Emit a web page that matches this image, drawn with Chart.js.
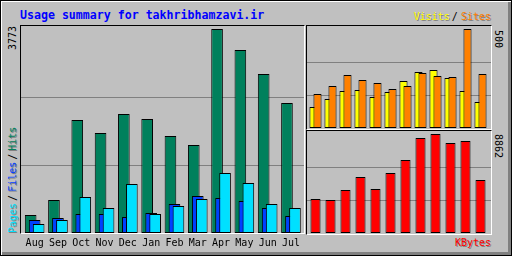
<!DOCTYPE html>
<html>
<head>
<meta charset="utf-8">
<script src="https://cdn.jsdelivr.net/npm/chart.js@4/dist/chart.umd.min.js"></script>
<style>
  body { margin: 0; background: #c0c0c0; }
  #frame {
    position: relative; width: 512px; height: 256px; overflow: hidden;
    background: #c0c0c0;
    box-shadow: inset 0 0 0 1px #000, inset 2px 2px 0 #fff, inset -4px -4px 0 #808080;
    font-family: 'DejaVu Sans Mono', monospace;
  }
  .panel {
    position: absolute; box-sizing: border-box;
    border-style: solid; border-width: 1px; border-color: #000 #fff #fff #000;
  }
  canvas { position: absolute; }
  .lbl { position: absolute; white-space: nowrap; font-size: 10px; line-height: 10px; }
  .up { transform-origin: 0 0; transform: rotate(-90deg); }
  .down { transform-origin: 0 0; transform: rotate(90deg); }
  .sh { text-shadow: 1px 1px 0 #808080; }
  .up .sh { text-shadow: -1px 1px 0 #808080; }
  .sep { margin: 0 3px 0 2px; color: #000; }
</style>
</head>
<body>
<div id="frame">
  <div class="panel" style="left:20px;top:25px;width:285px;height:209px"></div>
  <div class="panel" style="left:306px;top:25px;width:186px;height:105px"></div>
  <div class="panel" style="left:306px;top:130px;width:186px;height:105px"></div>

  <canvas id="mainChart" width="283" height="230" style="left:21px;top:26px"></canvas>
  <canvas id="visitChart" width="184" height="102" style="left:307px;top:26px"></canvas>
  <canvas id="kbChart" width="184" height="101" style="left:307px;top:132px"></canvas>

  <div class="lbl" style="left:20px;top:9px;font-size:11.6px;line-height:12px;font-weight:bold;color:#0000ff">Usage summary for takhribhamzavi.ir</div>
  <div class="lbl" style="right:21px;top:12px"><span class="sh" style="color:#ffff00">Visits</span><span class="sep">/</span><span class="sh" style="color:#ff8000">Sites</span></div>
  <div class="lbl sh" style="right:21px;top:238px;color:#ff0000">KBytes</div>
  <div class="lbl up" style="left:8px;top:233px"><span class="sh" style="color:#00e0ff">Pages</span><span class="sep">/</span><span class="sh" style="color:#0040ff">Files</span><span class="sep">/</span><span class="sh" style="color:#00805c">Hits</span></div>
  <div class="lbl up" id="hitsMaxLbl" style="left:8px;top:50px;color:#000"></div>
  <div class="lbl down" id="visitsMaxLbl" style="left:503px;top:30px;color:#000"></div>
  <div class="lbl down" id="kbMaxLbl" style="left:503px;top:134px;color:#000"></div>
</div>

<script>
// monthly totals, Aug .. Jul
const months = ['Aug', 'Sep', 'Oct', 'Nov', 'Dec', 'Jan', 'Feb', 'Mar', 'Apr', 'May', 'Jun', 'Jul'];
const hits   = [333, 610, 2090, 1850, 2201, 2108, 1794, 1628, 3773, 3385, 2941, 2404];
const files  = [240, 277, 351, 351, 296, 370, 536, 684, 647, 592, 462, 314];
const pages  = [166, 240, 666, 462, 906, 351, 499, 629, 1110, 925, 536, 462];
const visits = [106, 146, 187, 192, 157, 182, 237, 283, 293, 253, 187, 131];
const sites  = [172, 212, 268, 242, 227, 197, 212, 278, 263, 258, 500, 273];
const kbytes = [3044, 2954, 3849, 5013, 3939, 5371, 6535, 8504, 8862, 8056, 8235, 4744];

// scale tops (shown as the rotated labels)
const hitsMax = 3773;
const visitsMax = 500;
const kbytesMax = 8862;

document.getElementById('hitsMaxLbl').textContent = hitsMax;
document.getElementById('visitsMaxLbl').textContent = visitsMax;
document.getElementById('kbMaxLbl').textContent = kbytesMax;

Chart.defaults.animation = false;
Chart.defaults.responsive = false;
Chart.defaults.devicePixelRatio = 1;
Chart.defaults.plugins.legend.display = false;
Chart.defaults.plugins.tooltip.enabled = false;

// grey lines at 1/3 and 2/3 of the scale, across the whole panel
const panelGrid = {
	id: 'panelGrid',
	beforeDatasetsDraw(chart) {
		const y = chart.scales.y;
		const ctx = chart.ctx;
		ctx.save();
		ctx.strokeStyle = '#808080';
		ctx.lineWidth = 1;
		for (let k = 1; k < 3; k++) {
			const py = Math.round(y.getPixelForValue(y.max * k / 3)) + 0.5;
			ctx.beginPath();
			ctx.moveTo(0, py);
			ctx.lineTo(chart.width, py);
			ctx.stroke();
		}
		ctx.restore();
	}
};

// webalizer draws the bars of a month overlapping, each nudged sideways
const barShift = {
	id: 'barShift',
	beforeDatasetDraw(chart, args) {
		const dx = chart.data.datasets[args.index].shift || 0;
		chart.ctx.save();
		chart.ctx.translate(dx, 0);
	},
	afterDatasetDraw(chart) {
		chart.ctx.restore();
	}
};

function bar(label, data, color, shift, order, pct)
{
	return {
		label: label,
		data: data,
		backgroundColor: color,
		borderColor: '#000',
		borderWidth: 1,
		borderSkipped: false,
		grouped: false,
		shift: shift,
		order: order,
		barPercentage: pct,
		categoryPercentage: 1,
		clip: false
	};
}

function yScale(max)
{
	return { display: false, min: 0, max: max };
}

new Chart(document.getElementById('mainChart'), {
	type: 'bar',
	data: {
		labels: months,
		datasets: [
			bar('Hits', hits, '#00805c', -4, 3, 0.5),
			bar('Files', files, '#0040ff', 0, 2, 0.5),
			bar('Pages', pages, '#00e0ff', 4, 1, 0.5)
		]
	},
	options: {
		layout: { padding: { left: 2, top: 3, right: 0, bottom: 0 } },
		scales: {
			x: {
				grid: { display: false, drawTicks: false },
				border: { display: false },
				ticks: {
					color: '#000',
					font: { family: 'DejaVu Sans Mono', size: 10 },
					padding: 4,
					maxRotation: 0,
					autoSkip: false
				},
				afterFit: s => { s.height = 23; }
			},
			y: yScale(hitsMax)
		}
	},
	plugins: [panelGrid, barShift]
});

new Chart(document.getElementById('visitChart'), {
	type: 'bar',
	data: {
		labels: months,
		datasets: [
			bar('Visits', visits, '#ffff00', -2, 2, 0.54),
			bar('Sites', sites, '#ff8000', 2, 1, 0.54)
		]
	},
	options: {
		layout: { padding: { left: 1, top: 3, right: 3, bottom: 0 } },
		scales: { x: { display: false }, y: yScale(visitsMax) }
	},
	plugins: [panelGrid, barShift]
});

new Chart(document.getElementById('kbChart'), {
	type: 'bar',
	data: {
		labels: months,
		datasets: [bar('KBytes', kbytes, '#ff0000', 0, 1, 0.67)]
	},
	options: {
		layout: { padding: { left: 1, top: 2, right: 3, bottom: 0 } },
		scales: { x: { display: false }, y: yScale(kbytesMax) }
	},
	plugins: [panelGrid, barShift]
});
</script>
</body>
</html>
